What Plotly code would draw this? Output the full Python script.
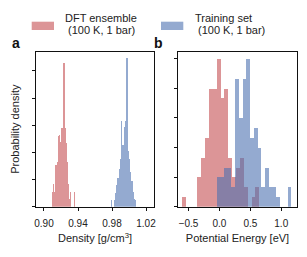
import numpy as np
import plotly.graph_objects as go

W, H = 307, 257

# ---------------- data ----------------
# Panel a: density histograms (probability density, arbitrary units), 20 bins each
dens_red_start, dens_red_width = 0.9094, 0.00135
dens_red_vals = [11, 17, 11, 31, 33, 52, 53, 48, 58, 58, 106, 58, 47, 33, 17, 6, 11, 0, 0, 11]
dens_blue_start, dens_blue_width = 0.9788, 0.0015
dens_blue_vals = [5, 0, 5, 10, 16, 21, 28, 35, 63, 46, 59, 63, 110, 41, 35, 26, 19, 11, 6, 5]

# Panel b: potential energy histograms (counts per bin), 20 bins each
pe_red_start, pe_red_width = -0.61, 0.0628
pe_red_vals = [1, 0, 0, 0, 3, 5, 7, 12, 12, 15, 11, 12, 5, 3, 4, 5, 2, 0, 1, 2]
pe_blue_start, pe_blue_width = -0.047, 0.0605
pe_blue_vals = [3, 3, 4, 4, 2, 13, 9, 13, 15, 7, 8, 6, 2, 4, 2, 2, 1, 0, 0, 2]

dens_ticks = [0.90, 0.94, 0.98, 1.02]
dens_ticktext = ["0.90", "0.94", "0.98", "1.02"]
pe_ticks = [-0.5, 0.0, 0.5, 1.0]
pe_ticktext = ["\u22120.5", "0.0", "0.5", "1.0"]

legend_labels = [("DFT ensemble", "(100 K, 1 bar)"), ("Training set", "(100 K, 1 bar)")]

RED = "rgba(196,78,82,0.6)"
BLUE = "rgba(76,114,176,0.6)"
FONT = "Liberation Sans, Arial, Helvetica, sans-serif"
TXT = "#222222"


def centers(start, width, n):
    return start + width * (np.arange(n) + 0.5)


def px(x):
    return x / W


def py(y):
    return 1 - y / H


fig = go.Figure()

fig.add_trace(go.Bar(x=centers(dens_red_start, dens_red_width, len(dens_red_vals)), y=dens_red_vals,
                     width=dens_red_width, marker=dict(color=RED, line=dict(width=0)),
                     xaxis="x", yaxis="y", showlegend=False))
fig.add_trace(go.Bar(x=centers(dens_blue_start, dens_blue_width, len(dens_blue_vals)), y=dens_blue_vals,
                     width=dens_blue_width, marker=dict(color=BLUE, line=dict(width=0)),
                     xaxis="x", yaxis="y", showlegend=False))
fig.add_trace(go.Bar(x=centers(pe_red_start, pe_red_width, len(pe_red_vals)), y=pe_red_vals,
                     width=pe_red_width, marker=dict(color=RED, line=dict(width=0)),
                     xaxis="x2", yaxis="y2", showlegend=False))
fig.add_trace(go.Bar(x=centers(pe_blue_start, pe_blue_width, len(pe_blue_vals)), y=pe_blue_vals,
                     width=pe_blue_width, marker=dict(color=BLUE, line=dict(width=0)),
                     xaxis="x2", yaxis="y2", showlegend=False))

ydom = [py(206.7), py(51.7)]
axis_common = dict(showline=True, linecolor="#111111", linewidth=1, mirror=True,
                   ticks="outside", ticklen=3.5, tickwidth=1, tickcolor="#111111",
                   showgrid=False, zeroline=False, automargin=False,
                   tickfont=dict(family=FONT, size=10, color=TXT))

fig.update_layout(
    width=W, height=H,
    margin=dict(l=0, r=0, t=0, b=0),
    paper_bgcolor="white", plot_bgcolor="white",
    barmode="overlay", bargap=0,
    font=dict(family=FONT, size=11, color=TXT),
    xaxis=dict(domain=[px(36), px(154)], range=[0.8906, 1.0294],
               tickvals=dens_ticks, ticktext=dens_ticktext, ticklabelstandoff=4,
               title=dict(text="Density [g/cm<sup>3</sup>]", font=dict(size=11, family=FONT, color=TXT), standoff=6),
               anchor="y", **axis_common),
    yaxis=dict(domain=ydom, range=[0, 114.1], tickvals=[0, 20, 40, 60, 80, 100], showticklabels=False,
               title=dict(text="Probability density", font=dict(size=11, family=FONT, color=TXT), standoff=9),
               anchor="x", **axis_common),
    xaxis2=dict(domain=[px(178), px(297)], range=[-0.67, 1.255],
                tickvals=pe_ticks, ticktext=pe_ticktext, ticklabelstandoff=4,
                title=dict(text="Potential Energy [eV]", font=dict(size=11, family=FONT, color=TXT), standoff=6),
                anchor="y2", **axis_common),
    yaxis2=dict(domain=ydom, range=[0, 15.7], tickvals=[0, 3, 6, 9, 12, 15], showticklabels=False,
                anchor="x2", **axis_common),
)

# legend (patches + two-line labels)
patch_colors = [RED, BLUE]
patch_x = [(31.7, 54.0), (161.0, 183.3)]
text_x = [63.0, 192.7]
for (l1, l2), col, (x0, x1), tx in zip(legend_labels, patch_colors, patch_x, text_x):
    fig.add_shape(type="rect", xref="paper", yref="paper", x0=px(x0), x1=px(x1), y0=py(30), y1=py(21.7),
                  fillcolor=col, line=dict(width=0))
    fig.add_annotation(xref="paper", yref="paper", x=px(tx), y=py(18), text=l1, showarrow=False,
                       xanchor="left", yanchor="middle", font=dict(family=FONT, size=11, color=TXT))
    fig.add_annotation(xref="paper", yref="paper", x=px(tx + 3), y=py(30), text=l2, showarrow=False,
                       xanchor="left", yanchor="middle", font=dict(family=FONT, size=11, color=TXT))

# panel letters
for letter, lx in [("a", 16), ("b", 158)]:
    fig.add_annotation(xref="paper", yref="paper", x=px(lx), y=py(43), text=f"<b>{letter}</b>", showarrow=False,
                       xanchor="center", yanchor="middle", font=dict(family=FONT, size=14, color="#111111"))

fig.write_html("out.html", config={"displayModeBar": False},
               post_script="document.body.style.margin='0px';document.body.style.overflow='hidden';")
